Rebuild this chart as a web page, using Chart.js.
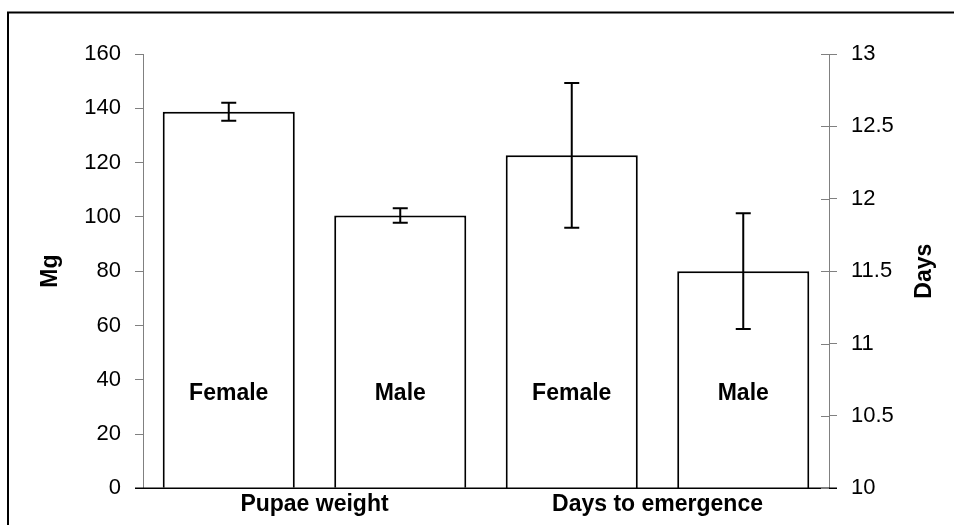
<!DOCTYPE html>
<html>
<head>
<meta charset="utf-8">
<script src="https://cdn.jsdelivr.net/npm/chart.js@4.4.1/dist/chart.umd.min.js"></script>
<style>
  html, body { margin: 0; padding: 0; background: #fff; }
  #wrap { width: 954px; height: 525px; position: relative; }
</style>
</head>
<body>
<div id="wrap"><canvas id="c" width="954" height="525"></canvas></div>
<script>
// ---- data ----
const categories = ['Female', 'Male', 'Female', 'Male'];
const groupLabels = ['Pupae weight', 'Days to emergence'];
const pupaeWeight = [138.7, 100.5, null, null];      // Mg
const pupaeWeightErr = [3.3, 2.7, null, null];
const daysToEmergence = [null, null, 12.3, 11.5];   // Days
const daysToEmergenceErr = [null, null, 0.5, 0.4];
const mgTicks = [0, 20, 40, 60, 80, 100, 120, 140, 160];
const dayTicks = [10, 10.5, 11, 11.5, 12, 12.5, 13];
const leftTitle = 'Mg';
const rightTitle = 'Days';

const FONT = "'Liberation Sans', Arial, sans-serif";
const BOLD = 'bold 23px ' + FONT;

const errorBarPlugin = {
  id: 'errorBars',
  afterDatasetsDraw(chart) {
    const ctx = chart.ctx;
    ctx.save();
    ctx.strokeStyle = '#000';
    ctx.lineWidth = 2;
    chart.data.datasets.forEach((ds, di) => {
      const meta = chart.getDatasetMeta(di);
      const scale = chart.scales[ds.yAxisID];
      ds.data.forEach((v, i) => {
        const err = ds.errors[i];
        if (v == null || err == null) return;
        const x = meta.data[i].x;
        const yTop = scale.getPixelForValue(v + err);
        const yBot = scale.getPixelForValue(v - err);
        const cap = 7.5;
        ctx.beginPath();
        ctx.moveTo(x, yTop); ctx.lineTo(x, yBot);
        ctx.moveTo(x - cap, yTop); ctx.lineTo(x + cap, yTop);
        ctx.moveTo(x - cap, yBot); ctx.lineTo(x + cap, yBot);
        ctx.stroke();
      });
    });
    ctx.restore();
  }
};

const decorPlugin = {
  id: 'decor',
  afterDraw(chart) {
    const ctx = chart.ctx;
    const ca = chart.chartArea;
    ctx.save();
    // outer frame
    ctx.strokeStyle = '#000';
    ctx.lineWidth = 2;
    ctx.strokeRect(8, 12.5, 1000, 1000);
    // category axis line spanning the tick marks
    ctx.strokeStyle = '#000';
    ctx.lineWidth = 1.5;
    ctx.beginPath();
    ctx.moveTo(ca.left - 8, ca.bottom); ctx.lineTo(ca.right + 8, ca.bottom);
    ctx.stroke();
    // inner ticks on right axis
    const y1 = chart.scales.y1;
    ctx.strokeStyle = '#808080';
    ctx.lineWidth = 1;
    y1.ticks.forEach(t => {
      const py = Math.round(y1.getPixelForValue(t.value)) + 0.5;
      ctx.beginPath();
      ctx.moveTo(ca.right - 8, py); ctx.lineTo(ca.right, py);
      ctx.stroke();
    });
    // in-bar category labels
    ctx.fillStyle = '#000';
    ctx.font = BOLD;
    ctx.textAlign = 'center';
    ctx.textBaseline = 'middle';
    const yLab = chart.scales.y.getPixelForValue(35);
    chart.data.datasets.forEach((ds, di) => {
      const meta = chart.getDatasetMeta(di);
      ds.data.forEach((v, i) => {
        if (v == null) return;
        ctx.fillText(categories[i], meta.data[i].x, yLab);
      });
    });
    // right axis title, reading bottom to top
    ctx.translate(925, (ca.top + ca.bottom) / 2);
    ctx.rotate(-Math.PI / 2);
    ctx.fillText(rightTitle, 0, 0);
    ctx.restore();
  }
};

new Chart(document.getElementById('c'), {
  type: 'bar',
  data: {
    labels: categories,
    datasets: [
      {
        label: 'Pupae weight',
        data: pupaeWeight,
        errors: pupaeWeightErr,
        yAxisID: 'y',
        xAxisID: 'x',
        backgroundColor: '#ffffff',
        borderColor: '#000000',
        borderWidth: 2,
        borderSkipped: 'bottom',
        grouped: false,
        barPercentage: 0.77,
        categoryPercentage: 1
      },
      {
        label: 'Days to emergence',
        data: daysToEmergence,
        errors: daysToEmergenceErr,
        yAxisID: 'y1',
        xAxisID: 'x',
        backgroundColor: '#ffffff',
        borderColor: '#000000',
        borderWidth: 2,
        borderSkipped: 'bottom',
        grouped: false,
        barPercentage: 0.77,
        categoryPercentage: 1
      }
    ]
  },
  options: {
    responsive: false,
    animation: false,
    devicePixelRatio: 1,
    layout: { padding: { top: 54, left: 0, right: 0, bottom: 0 } },
    plugins: { legend: { display: false }, tooltip: { enabled: false } },
    scales: {
      x: {
        type: 'category',
        position: 'bottom',
        grid: { display: false, drawTicks: false },
        border: { display: false },
        ticks: { display: false },
        afterFit(s) { s.height = 0; }
      },
      x2: {
        type: 'category',
        labels: groupLabels,
        position: 'bottom',
        offset: true,
        grid: { display: false, drawTicks: false },
        border: { display: false },
        ticks: {
          color: '#000',
          font: { family: FONT, size: 23, weight: 'bold' },
          padding: 3,
          maxRotation: 0,
          autoSkip: false
        },
        afterFit(s) { s.height = 36.7; }
      },
      y: {
        position: 'left',
        min: 0, max: 160,
        afterBuildTicks(s) { s.ticks = mgTicks.map(v => ({ value: v })); },
        grid: { drawOnChartArea: false, color: '#808080', tickLength: 8, lineWidth: 1 },
        border: { display: true, color: '#808080', width: 1 },
        ticks: { color: '#000', font: { family: FONT, size: 22 }, padding: 14 },
        title: {
          display: true, text: leftTitle, color: '#000',
          font: { family: FONT, size: 23, weight: 'bold' },
          padding: { top: 37, bottom: 0 }
        },
        afterFit(s) { s.width = 143; }
      },
      y1: {
        position: 'right',
        min: 10, max: 13,
        afterBuildTicks(s) { s.ticks = dayTicks.map(v => ({ value: v })); },
        grid: { drawOnChartArea: false, color: '#808080', tickLength: 8, lineWidth: 1 },
        border: { display: true, color: '#808080', width: 1 },
        ticks: {
          color: '#000', font: { family: FONT, size: 22 }, padding: 14,
          callback: (v) => String(v)
        },
        title: { display: false },
        afterFit(s) { s.width = 125; }
      }
    }
  },
  plugins: [errorBarPlugin, decorPlugin]
});
</script>
</body>
</html>
